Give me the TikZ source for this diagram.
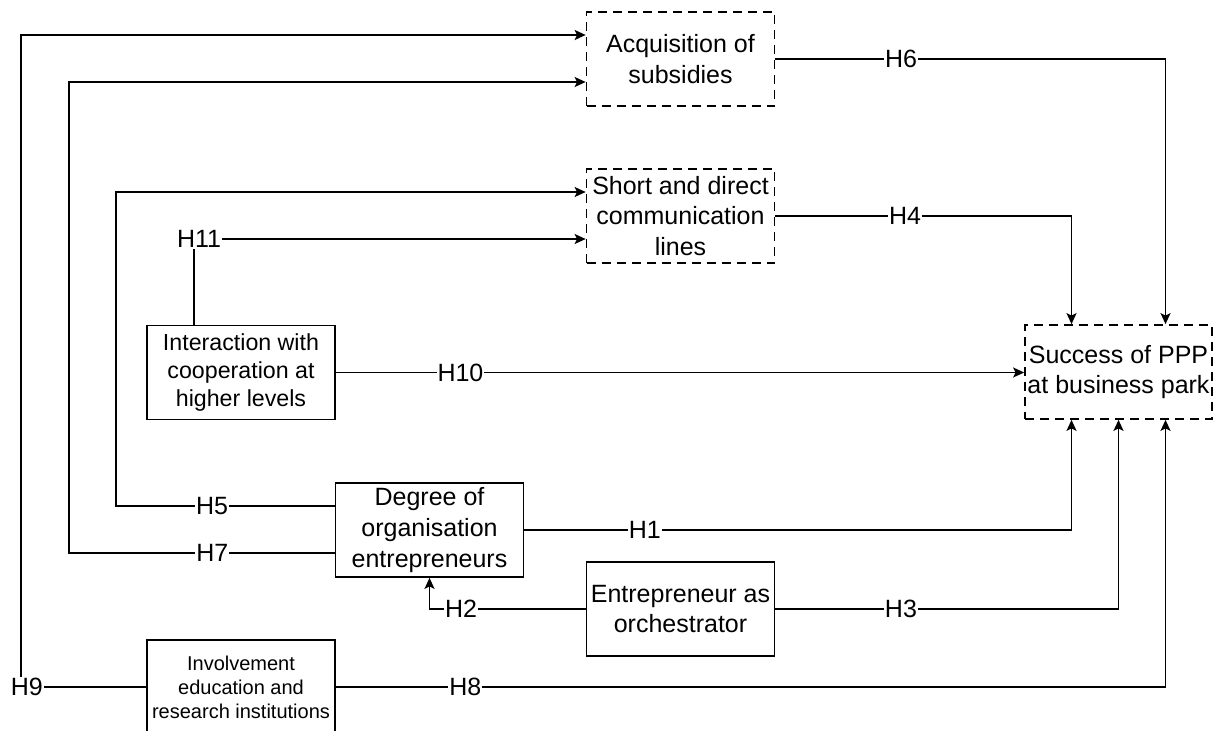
\documentclass[tikz,border=0pt]{standalone}
\usepackage{fontspec}
\setmainfont{Liberation Sans}
\usetikzlibrary{arrows.meta}

\begin{document}
\begin{tikzpicture}[->, >={Stealth[length=5.5pt,width=5pt,inset=1.2pt]}, x=0.5pt, y=-0.5pt,
                    line width=0.85pt,
                    block/.style={draw, rectangle, minimum width=94pt, minimum height=47pt,
                                  align=center, inner sep=1pt, font=\fontsize{12.5}{15.3}\selectfont},
                    dblock/.style={block, dash pattern=on 4.5pt off 3pt},
                    hyp/.style={fill=white, inner sep=0.5pt, font=\fontsize{12.5}{14}\selectfont}]
  \useasboundingbox (0,0) rectangle (1213,731);

  \node[dblock] (acq)    at (680.5,59)   {Acquisition of\\subsidies};
  \node[dblock] (short)  at (680.5,216)  {Short and direct\\communication\\lines};
  \node[block]  (inter)  at (241,372.5)  [font=\fontsize{11.6}{14.2}\selectfont]
                                         {Interaction with\\cooperation at\\higher levels};
  \node[dblock] (succ)   at (1118.5,372) [minimum width=93.5pt] {Success of PPP\\at business park};
  \node[block]  (degree) at (429.5,530)  {Degree of\\organisation\\entrepreneurs};
  \node[block]  (entre)  at (680.5,609)  {Entrepreneur as\\orchestrator};
  \node[block]  (invol)  at (241,687)    [font=\fontsize{10}{12}\selectfont]
                                         {Involvement\\education and\\research institutions};

  \draw (acq.east) -| node[hyp, pos=0.161] {H6} ([xshift=23.5pt]succ.north);
  \draw (short.east) -| node[hyp, pos=0.219] {H4} ([xshift=-23.5pt]succ.north);
  \draw (inter.east) -- node[hyp, pos=0.181] {H10} (inter.east -| succ.west);
  \draw (degree.east) -| node[hyp, pos=0.11] {H1} ([xshift=-23.5pt]succ.south);
  \draw (entre.east) -| node[hyp, pos=0.183] {H3} (succ.south);
  \draw (invol.east) -| node[hyp, pos=0.078] {H8} ([xshift=23.5pt]succ.south);
  \draw (entre.west) -| node[hyp, pos=0.399] {H2} (degree.south);
  \draw ([yshift=12pt]degree.west) -- ++(-219,0) node[hyp, pos=0.56] {H5}
        |- ([yshift=12pt]short.west);
  \draw ([yshift=-11.5pt]degree.west) -- ++(-266,0) node[hyp, pos=0.46] {H7}
        |- ([yshift=-11.5pt]acq.west);
  \draw (invol.west) -- ++(-125.5,0) node[hyp, pos=0.95] {H9}
        |- ([yshift=12pt]acq.west);
  \draw ([xshift=-23.5pt]inter.north) |- node[hyp, pos=0.5, xshift=2.5pt] {H11}
        ([yshift=-11.5pt]short.west);
\end{tikzpicture}
\end{document}
